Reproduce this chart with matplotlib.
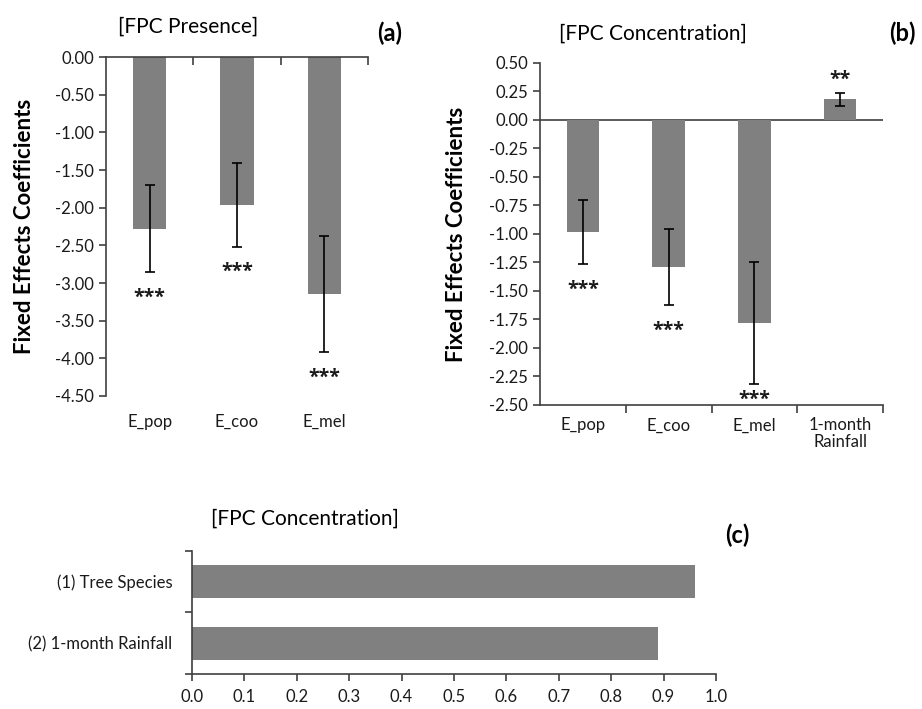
import numpy as np
import matplotlib
matplotlib.use("Agg")
import matplotlib.pyplot as plt
from matplotlib.ticker import FormatStrFormatter, FixedLocator

plt.rcParams['font.family'] = ['Lato', 'DejaVu Sans']

# (a) FPC presence: fixed effects coefficients
pres_labels = ['E_pop', 'E_coo', 'E_mel']
pres_coef = [-2.28, -1.96, -3.15]
pres_err = [0.58, 0.56, 0.77]
pres_sig = ['***', '***', '***']

# (b) FPC concentration: fixed effects coefficients
conc_labels = ['E_pop', 'E_coo', 'E_mel', '1-month\nRainfall']
conc_coef = [-0.98, -1.29, -1.78, 0.18]
conc_err = [0.28, 0.33, 0.535, 0.055]
conc_sig = ['***', '***', '***', '**']

# (c) FPC concentration: relative importance
imp_labels = ['(1) Tree Species', '(2) 1-month Rainfall']
imp_values = [0.96, 0.89]

bar_col = '#808080'
ax_col = '#404040'
txt_col = '#1a1a1a'

fig = plt.figure(figsize=(9.22, 7.09), dpi=100)


def style_axes(ax):
    for s in ['top', 'right', 'bottom', 'left']:
        ax.spines[s].set_color(ax_col)
        ax.spines[s].set_linewidth(1.2)
    ax.tick_params(colors=ax_col, labelcolor=txt_col, width=1.2)


def star_marks(ax, coef, err, sig, ymin, off):
    # significance stars just beyond the end of each error bar
    for i, (c, e, s) in enumerate(zip(coef, err, sig)):
        if c < 0:
            y = max(c - e - off, ymin + 0.3 * off)
        else:
            y = c + e + off * 0.65
        ax.text(i, y, s, ha='center', va='center_baseline', fontsize=14,
                fontweight='bold', color=txt_col, family='Open Sans')


# ---- panel (a)
axa = fig.add_axes([0.115, 0.4415, 0.284, 0.478])
xa = np.arange(len(pres_labels))
axa.bar(xa, pres_coef, width=0.38, color=bar_col, zorder=2)
axa.errorbar(xa, pres_coef, yerr=pres_err, fmt='none', ecolor='black',
             elinewidth=1.2, capsize=3.5, capthick=1.2, zorder=3)
axa.set_xlim(-0.5, len(pres_labels) - 0.5)
axa.set_ylim(-4.5, 0)
axa.set_yticks(np.arange(-4.5, 0.01, 0.5))
axa.yaxis.set_major_formatter(FormatStrFormatter('%.2f'))
style_axes(axa)
axa.spines['right'].set_visible(False)
axa.spines['bottom'].set_visible(False)
axa.set_xticks(xa)
axa.set_xticklabels(pres_labels, fontsize=12)
axa.tick_params(axis='x', length=0, pad=13)
axa.tick_params(axis='y', length=5, labelsize=12)
axa.xaxis.set_minor_locator(FixedLocator(np.arange(0.5, len(pres_labels), 1)))
axa.tick_params(axis='x', which='minor', top=True, bottom=False,
                direction='in', length=6, width=1.2, colors=ax_col)
star_marks(axa, pres_coef, pres_err, pres_sig, -4.5, 0.3)
axa.set_ylabel('Fixed Effects Coefficients', fontsize=16, fontweight='bold',
               labelpad=15)
fig.text(0.204, 0.962, '[FPC Presence]', ha='center', va='center', fontsize=15)
fig.text(0.423, 0.953, '(a)', ha='center', va='center', fontsize=17,
         fontweight='bold')

# ---- panel (b)
axb = fig.add_axes([0.5857, 0.4288, 0.372, 0.4824])
xb = np.arange(len(conc_labels))
axb.bar(xb, conc_coef, width=0.38, color=bar_col, zorder=2)
axb.errorbar(xb, conc_coef, yerr=conc_err, fmt='none', ecolor='black',
             elinewidth=1.2, capsize=3.5, capthick=1.2, zorder=3)
axb.axhline(0, color=ax_col, lw=1.2, zorder=1)
axb.set_xlim(-0.5, len(conc_labels) - 0.5)
axb.set_ylim(-2.5, 0.5)
axb.set_yticks(np.arange(-2.5, 0.51, 0.25))
axb.yaxis.set_major_formatter(FormatStrFormatter('%.2f'))
style_axes(axb)
axb.spines['right'].set_visible(False)
axb.spines['top'].set_visible(False)
axb.set_xticks(xb)
axb.set_xticklabels(conc_labels, fontsize=12, linespacing=1.05, va='top')
axb.tick_params(axis='x', length=0, pad=9)
axb.tick_params(axis='y', length=5, labelsize=12)
axb.xaxis.set_minor_locator(FixedLocator(np.arange(0.5, len(conc_labels), 1)))
axb.tick_params(axis='x', which='minor', direction='out', length=6, width=1.2,
                colors=ax_col)
star_marks(axb, conc_coef, conc_err, conc_sig, -2.5, 0.21)
axb.set_ylabel('Fixed Effects Coefficients', fontsize=16, fontweight='bold',
               labelpad=16)
fig.text(0.708, 0.953, '[FPC Concentration]', ha='center', va='center',
         fontsize=15)
fig.text(0.979, 0.953, '(b)', ha='center', va='center', fontsize=17,
         fontweight='bold')

# ---- panel (c)
axc = fig.add_axes([0.2082, 0.0494, 0.5683, 0.1735])
yc = np.arange(len(imp_labels))
axc.barh(yc, imp_values, height=0.53, color=bar_col, zorder=2)
axc.set_ylim(len(imp_labels) - 0.5, -0.5)
axc.set_xlim(0, 1.0)
axc.set_xticks(np.arange(0, 1.01, 0.1))
axc.xaxis.set_major_formatter(FormatStrFormatter('%.1f'))
style_axes(axc)
axc.spines['right'].set_visible(False)
axc.spines['top'].set_visible(False)
axc.set_yticks(yc)
axc.set_yticklabels(imp_labels, fontsize=12)
axc.tick_params(axis='y', length=0, pad=14)
axc.tick_params(axis='x', length=5, labelsize=12, pad=6)
axc.yaxis.set_minor_locator(FixedLocator(np.arange(-0.5, len(imp_labels), 1)))
axc.tick_params(axis='y', which='minor', direction='out', length=5, width=1.2,
                colors=ax_col)
fig.text(0.331, 0.269, '[FPC Concentration]', ha='center', va='center',
         fontsize=15)
fig.text(0.800, 0.245, '(c)', ha='center', va='center', fontsize=17,
         fontweight='bold')

fig.savefig('out.png', dpi=100)
